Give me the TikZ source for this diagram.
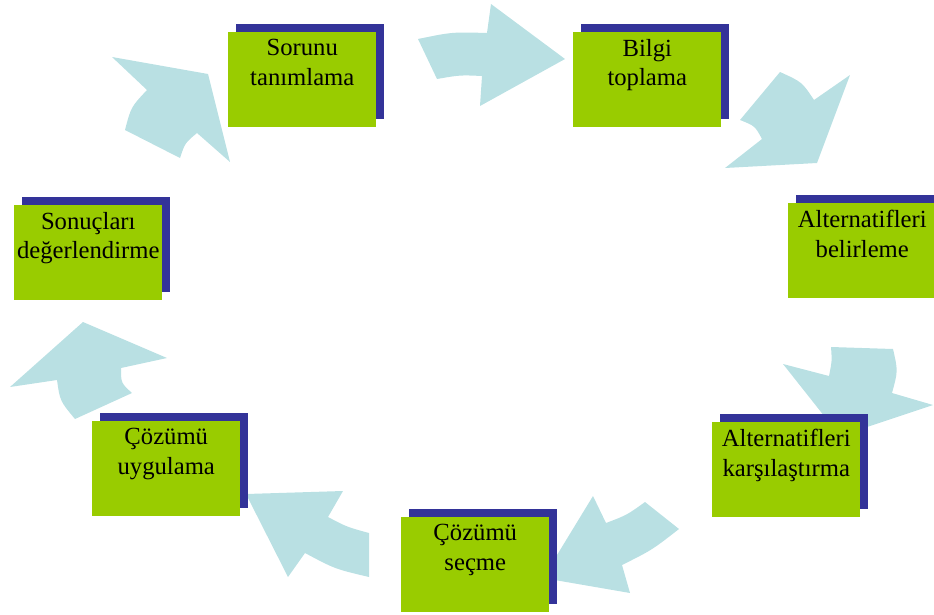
\documentclass[tikz,border=0pt]{standalone}
\usepackage{fontspec}
\setmainfont{Liberation Serif}
\usepackage{xcolor}
\usepackage{tikz}
\usetikzlibrary{shadows}
\definecolor{BoxGreen}{HTML}{99CC00}
\definecolor{BoxShadow}{HTML}{333399}
\definecolor{ArrowBlue}{HTML}{B9E0E3}
\tikzset{
  stepbox/.style={fill=BoxGreen, minimum width=111pt, minimum height=71.25pt, inner sep=0pt,
    anchor=north west, drop shadow={shadow xshift=6pt, shadow yshift=6pt, opacity=1, fill=BoxShadow}},
  steptext/.style={font=\fontsize{18.5}{21.8}\selectfont, align=center, anchor=north, inner sep=0pt,
    yshift=-5.5pt, text=black},
  cyclearrow/.style={fill=ArrowBlue},
}

\begin{document}
\begin{tikzpicture}[x=0.75pt, y=-0.75pt]
  \useasboundingbox (0,0) rectangle (934,614);

  % Curved arrows of the cycle
  \fill[cyclearrow] (418,39) .. controls (452,32) .. (487,33) -- (491,4) -- (565,59) -- (480,106)
    -- (482,76) .. controls (460,75) .. (437,79) -- cycle;
  \fill[cyclearrow] (780,72) .. controls (802,82) .. (814,100) -- (850,75) -- (817,163) -- (725,168)
    -- (762,139) .. controls (755,126) .. (740,120) -- cycle;
  \fill[cyclearrow] (831,347) -- (893,349) .. controls (898,371) .. (892,393) -- (933,405) -- (840,436)
    -- (783,364) -- (829,376) .. controls (832,361) .. (831,347) -- cycle;
  \fill[cyclearrow] (593,496) -- (606,523) .. controls (627,515) .. (645,502) -- (679,529)
    .. controls (652,550) .. (622,565) -- (630,593) -- (543,578) -- cycle;
  \fill[cyclearrow] (246,494) -- (343,491) -- (328,517) .. controls (347,527) .. (369,533) -- (369,577)
    .. controls (335,569) .. (305,553) -- (288,577) -- cycle;
  \fill[cyclearrow] (83,322) -- (167,358) -- (121,368) .. controls (121,383) .. (132,393) -- (75,419)
    .. controls (60,401) .. (57,380) -- (10,387) -- cycle;
  \fill[cyclearrow] (112,57) -- (208,74) -- (230,162) -- (197,133) .. controls (185,143) .. (180,158)
    -- (125,130) .. controls (131,107) .. (147,90) -- cycle;

  % Steps
  \node[stepbox] (sorunu) at (228,32) {};
  \node[steptext] (sorunu-text) at (sorunu.north) {Sorunu\\tanımlama};

  \node[stepbox] (bilgi) at (573,32) {};
  \node[steptext] (bilgi-text) at (bilgi.north) {Bilgi\\toplama};

  \node[stepbox] (belirleme) at (788,203) {};
  \node[steptext] (belirleme-text) at (belirleme.north) {Alternatifleri\\belirleme};

  \node[stepbox] (karsilastirma) at (712,422) {};
  \node[steptext] (karsilastirma-text) at (karsilastirma.north) {Alternatifleri\\karşılaştırma};

  \node[stepbox] (secme) at (401,517) {};
  \node[steptext] (secme-text) at (secme.north) {Çözümü\\seçme};

  \node[stepbox] (uygulama) at (92,421) {};
  \node[steptext] (uygulama-text) at (uygulama.north) {Çözümü\\uygulama};

  \node[stepbox] (sonuclar) at (14,205) {};
  \node[steptext] (sonuclar-text) at (sonuclar.north) {Sonuçları\\değerlendirme};
\end{tikzpicture}
\end{document}
